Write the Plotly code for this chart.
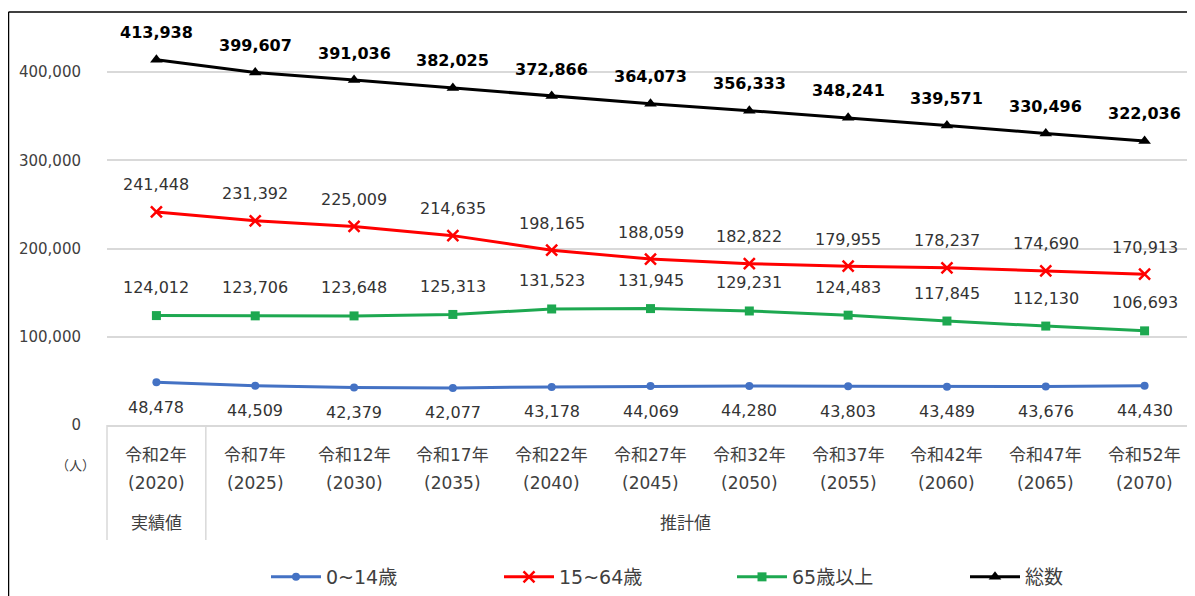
import plotly.graph_objects as go

era_labels = ["令和2年", "令和7年", "令和12年", "令和17年", "令和22年", "令和27年",
              "令和32年", "令和37年", "令和42年", "令和47年", "令和52年"]
years = ["2020", "2025", "2030", "2035", "2040", "2045", "2050", "2055", "2060", "2065", "2070"]
categories = [f"{e}({y})" for e, y in zip(era_labels, years)]

age_0_14 = [48478, 44509, 42379, 42077, 43178, 44069, 44280, 43803, 43489, 43676, 44430]
age_15_64 = [241448, 231392, 225009, 214635, 198165, 188059, 182822, 179955, 178237, 174690, 170913]
age_65_plus = [124012, 123706, 123648, 125313, 131523, 131945, 129231, 124483, 117845, 112130, 106693]
total = [413938, 399607, 391036, 382025, 372866, 364073, 356333, 348241, 339571, 330496, 322036]

y_ticks = [0, 100000, 200000, 300000, 400000]
y_tick_text = ["0", "100,000", "200,000", "300,000", "400,000"]

series = [
    ("0~14歳", age_0_14, "#4472C4", "circle", 8, -25, False),
    ("15~64歳", age_15_64, "#FF0000", "x-thin-open", 11, 27, False),
    ("65歳以上", age_65_plus, "#1DA850", "square", 9, 28, False),
    ("総数", total, "#000000", "triangle-up", 11, 27, True),
]

FONT = "DejaVu Sans, Noto Sans CJK JP, sans-serif"
TXT = "#404040"

OFF = 8  # page body margin
W, H = 1195 - OFF, 596 - OFF
# target screen coords of plot area: left 107, right 1194, top 28, bottom 425
L = 107 - OFF
T = 28 - OFF
R = W - (1194 - OFF)
B = H - (425 - OFF)
ph = H - T - B
pw = W - L - R


def py(p):
    return ((425 - OFF) - (p - OFF)) / ph


def px(p):
    return ((p - OFF) - L) / pw


fig = go.Figure()
annotations = []
for name, vals, color, sym, msize, shift, bold in series:
    fig.add_trace(go.Scatter(
        x=categories, y=vals, name=name, mode="lines+markers",
        line=dict(color=color, width=3),
        marker=dict(symbol=sym, size=msize, color=color,
                    line=dict(color=color, width=2.5 if sym.startswith("x") else 0)),
    ))
    for c, v in zip(categories, vals):
        annotations.append(dict(
            x=c, y=v, xref="x", yref="y", text=f"<b>{v:,}</b>" if bold else f"{v:,}",
            showarrow=False, yshift=shift, xanchor="center", yanchor="middle",
            font=dict(family=FONT, size=16, color="#000000" if bold else "#333333"),
        ))

lab = dict(showarrow=False, xanchor="center", yanchor="middle")
for c, e, y in zip(categories, era_labels, years):
    annotations.append(dict(x=c, y=py(455), xref="x", yref="paper", text=e,
                            font=dict(family=FONT, size=17, color=TXT), **lab))
    annotations.append(dict(x=c, y=py(483), xref="x", yref="paper", text=f"({y})",
                            font=dict(family=FONT, size=17, color=TXT), **lab))

annotations.append(dict(x=categories[0], y=py(523), xref="x", yref="paper", text="実績値",
                        font=dict(family=FONT, size=17, color=TXT), **lab))
annotations.append(dict(x=5.35, y=py(523), xref="x", yref="paper", text="推計値",
                        font=dict(family=FONT, size=17, color=TXT), **lab))
annotations.append(dict(x=px(75), y=py(465), xref="paper", yref="paper", text="（人）",
                        font=dict(family=FONT, size=13, color=TXT), **lab))

shapes = [
    dict(type="line", xref="paper", yref="paper", x0=0, x1=0, y0=0, y1=py(540),
         line=dict(color="#D9D9D9", width=1.5)),
    dict(type="line", xref="x", yref="paper", x0=0.5, x1=0.5, y0=0, y1=py(540),
         line=dict(color="#D9D9D9", width=1.5)),
    dict(type="line", xref="paper", yref="paper", x0=px(8.5), x1=px(8.5), y0=py(12), y1=py(610),
         line=dict(color="#000000", width=1.5)),
    dict(type="line", xref="paper", yref="paper", x0=px(8.5), x1=px(1210), y0=py(12), y1=py(12),
         line=dict(color="#000000", width=1.5)),
]

fig.update_layout(
    width=W, height=H,
    margin=dict(l=L, r=R, t=T, b=B, autoexpand=False),
    paper_bgcolor="white", plot_bgcolor="white",
    font=dict(family=FONT, color=TXT),
    showlegend=True,
    legend=dict(orientation="h", x=px(266), y=py(577), xanchor="left", yanchor="middle",
                entrywidth=168, entrywidthmode="pixels", itemwidth=50,
                font=dict(family=FONT, size=19, color=TXT)),
    xaxis=dict(type="category", categoryorder="array", categoryarray=categories,
               range=[-0.5, len(categories) - 0.5],
               showticklabels=False, showgrid=False, showline=True, linecolor="#D9D9D9",
               linewidth=1.5, ticks="", zeroline=False, fixedrange=True, automargin=False),
    yaxis=dict(range=[0, 450000], tickvals=y_ticks, ticktext=y_tick_text, automargin=False,
               showgrid=True, gridcolor="#D9D9D9", gridwidth=1.5, zeroline=False,
               showline=False, ticks="outside", ticklen=22, tickcolor="rgba(0,0,0,0)",
               tickfont=dict(family=FONT, size=15, color=TXT)),
    annotations=annotations,
    shapes=shapes,
)

fig.write_html("out.html")
